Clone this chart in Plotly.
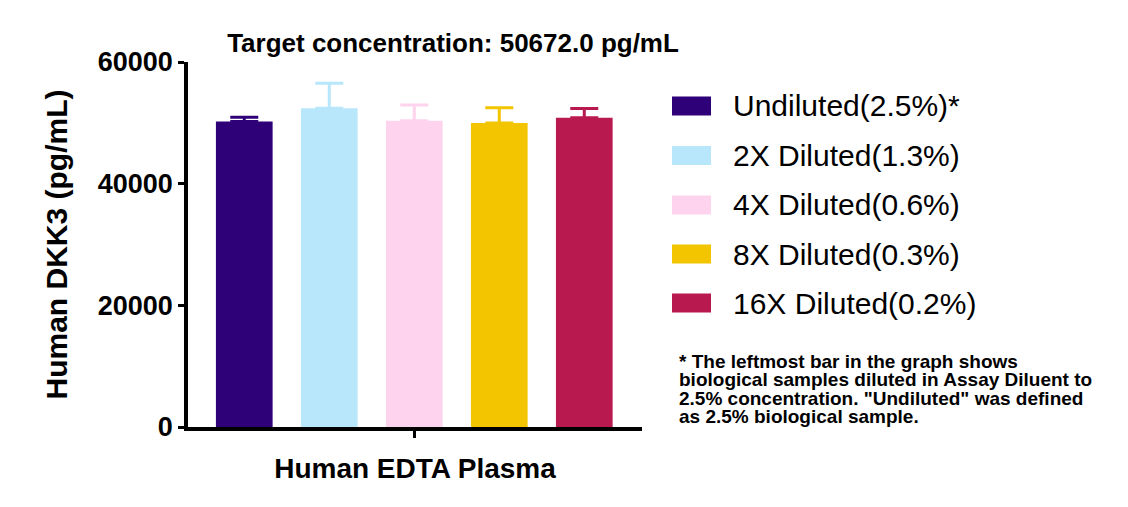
import plotly.graph_objects as go

# dilution series of Human EDTA Plasma, DKK3 (pg/mL)
categories = ["Undiluted(2.5%)*", "2X Diluted(1.3%)", "4X Diluted(0.6%)",
              "8X Diluted(0.3%)", "16X Diluted(0.2%)"]
means = [50200, 52400, 50350, 49980, 50850]
sd_plus = [700, 4100, 2600, 2500, 1500]
colors = ["#2E0179", "#B8E6FA", "#FDD3EE", "#F2C500", "#B8194F"]

y_ticks = [0, 20000, 40000, 60000]
title_text = "Target concentration: 50672.0 pg/mL"
x_title = "Human EDTA Plasma"
y_title = "Human DKK3 (pg/mL)"
footnote = ['* The leftmost bar in the graph shows',
            'biological samples diluted in Assay Diluent to',
            '2.5% concentration. "Undiluted" was defined',
            'as 2.5% biological sample.']

FONT = "Liberation Sans, Arial, sans-serif"

fig = go.Figure()
for i, (name, m, sd, c) in enumerate(zip(categories, means, sd_plus, colors)):
    fig.add_trace(go.Bar(
        x=[i], y=[m], name=name, width=0.667,
        marker=dict(color=c, line=dict(width=0)),
        error_y=dict(type="data", array=[sd], arrayminus=[0], symmetric=False,
                     color=c, thickness=3, width=14),
        showlegend=False,
    ))

# page body adds an 8px offset, so the figure is a bit smaller than the window
OFF = 8
W, H = 1128 - OFF, 507 - OFF
L, T = 188 - OFF, 62 - OFF
R, B = W - (642 - OFF), H - (427 - OFF)
pw, ph = W - L - R, H - T - B

def px(x):
    return (x - OFF - L) / pw

def py(y):
    return (H - B - (y - OFF)) / ph

# hand-made legend on the right (large swatches like the original)
row_y = [106, 155.5, 205, 254, 303]
for name, c, yy in zip(categories, colors, row_y):
    fig.add_shape(type="rect", xref="paper", yref="paper",
                  x0=px(672), x1=px(711), y0=py(yy + 9.5), y1=py(yy - 9.5),
                  fillcolor=c, line=dict(width=0))
    fig.add_annotation(text=name, xref="paper", yref="paper",
                       x=px(732), y=py(yy), xanchor="left", yanchor="middle",
                       showarrow=False, borderpad=0,
                       font=dict(family=FONT, size=30, color="black"))

# footnote lines are set tight, one annotation per line
for k, line in enumerate(footnote):
    fig.add_annotation(text=line, xref="paper", yref="paper",
                       x=px(678), y=py(361 + 18.5 * k), xanchor="left", yanchor="middle",
                       showarrow=False, borderpad=0,
                       font=dict(family=FONT, size=19, color="black", weight="bold"))

fig.update_layout(
    width=W, height=H,
    margin=dict(l=L, r=R, t=T, b=B),
    plot_bgcolor="white", paper_bgcolor="white",
    barmode="overlay",
    font=dict(family=FONT, color="black"),
    title=dict(text=title_text, xref="paper", x=px(453), xanchor="center",
               yref="container", y=1 - (43 - OFF) / H, yanchor="middle",
               font=dict(family=FONT, size=26, color="black", weight="bold")),
    xaxis=dict(range=[-0.662, 4.679], tickvals=[2], ticktext=[""],
               showline=True, linecolor="black", linewidth=3.5,
               ticks="outside", ticklen=7, tickwidth=3, tickcolor="black",
               showgrid=False, zeroline=False,
               title=dict(text=x_title, standoff=20,
                          font=dict(family=FONT, size=28, color="black", weight="bold"))),
    yaxis=dict(range=[0, 60000], tickvals=y_ticks, tickformat="d",
               showline=True, linecolor="black", linewidth=3.5,
               ticks="outside", ticklen=6, tickwidth=3, tickcolor="black",
               showgrid=False, zeroline=False,
               tickfont=dict(family=FONT, size=27, color="black", weight="bold"),
               title=dict(text=y_title, standoff=22,
                          font=dict(family=FONT, size=30, color="black", weight="bold"))),
)

fig.write_html("out.html")
